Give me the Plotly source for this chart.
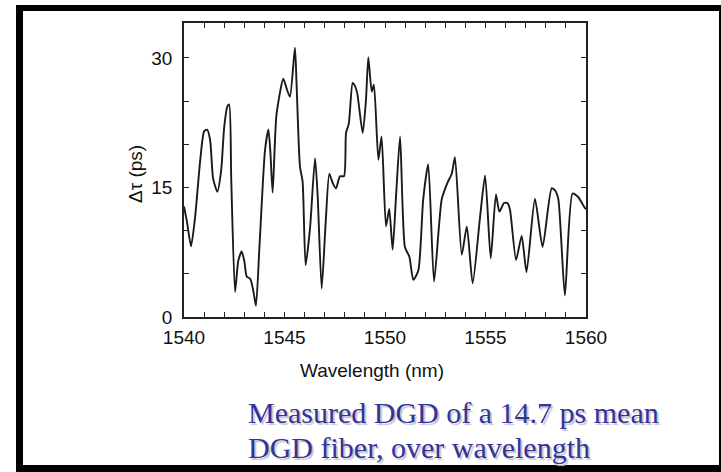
import plotly.graph_objects as go

# Data
wavelength_nm = [
    1540.00, 1540.15, 1540.35, 1540.55, 1540.80, 1541.00, 1541.15, 1541.30, 1541.45, 1541.66,
    1541.85, 1542.00, 1542.16, 1542.25, 1542.35, 1542.54, 1542.70, 1542.87, 1543.00, 1543.12,
    1543.30, 1543.45, 1543.58, 1543.75, 1544.03, 1544.20, 1544.30, 1544.41, 1544.60, 1544.94,
    1545.10, 1545.27, 1545.52, 1545.60, 1545.77, 1545.90, 1546.05, 1546.27, 1546.52, 1546.65,
    1546.85, 1547.05, 1547.23, 1547.40, 1547.56, 1547.76, 1547.96, 1548.06, 1548.20, 1548.39,
    1548.50, 1548.62, 1548.89, 1549.05, 1549.17, 1549.34, 1549.45, 1549.67, 1549.83, 1550.05,
    1550.21, 1550.38, 1550.55, 1550.75, 1550.99, 1551.21, 1551.41, 1551.66, 1551.90, 1552.15,
    1552.44, 1552.82, 1553.10, 1553.32, 1553.48, 1553.82, 1554.07, 1554.36, 1554.73, 1554.98,
    1555.26, 1555.52, 1555.69, 1555.92, 1556.09, 1556.22, 1556.52, 1556.80, 1557.04, 1557.46,
    1557.84, 1558.29, 1558.45, 1558.62, 1558.95, 1559.33, 1559.61, 1559.95, 1560.00,
]
dgd_ps = [
    12.8, 11.0, 8.2, 11.5, 18.0, 21.5, 21.7, 20.5, 16.0, 14.5,
    17.0, 22.0, 24.4, 24.6, 16.0, 2.9, 6.5, 7.6, 6.5, 4.7,
    4.4, 3.0, 1.3, 8.0, 19.3, 21.7, 19.0, 14.4, 23.4, 27.6,
    26.5, 25.5, 31.2, 27.0, 17.4, 15.7, 6.0, 10.3, 18.4, 14.0,
    3.3, 11.0, 16.6, 15.5, 14.9, 16.3, 16.3, 21.3, 22.4, 27.1,
    26.8, 25.9, 21.3, 25.0, 30.1, 26.1, 26.9, 18.2, 20.9, 10.5,
    12.5, 7.8, 14.0, 20.9, 8.1, 7.0, 4.3, 5.4, 13.6, 17.7,
    4.1, 13.6, 15.5, 16.6, 18.5, 7.2, 10.5, 3.9, 11.6, 16.4,
    6.8, 14.2, 12.2, 13.2, 13.2, 12.4, 6.6, 9.4, 5.2, 13.7,
    8.1, 14.9, 14.7, 13.7, 2.5, 14.3, 13.9, 12.6, 12.5,
]
x_tick_vals = [1540, 1545, 1550, 1555, 1560]
x_tick_text = ["1540", "1545", "1550", "1555", "1560"]
y_tick_vals = [0, 15, 30]
y_tick_text = ["0", "15", "30"]

x_title = "Wavelength (nm)"
y_title = "Δτ (ps)"
caption_lines = ["Measured DGD of a 14.7 ps mean", "DGD fiber, over wavelength"]

W, H = 721, 472
L, R, T, B = 184, 586, 23, 317  # plot area in pixels


def px_x(p):
    return (p - L) / (R - L)


def px_y(p):
    return (B - p) / (B - T)


fig = go.Figure()
fig.add_trace(go.Scatter(
    x=wavelength_nm, y=dgd_ps, mode="lines",
    line=dict(color="#1a1a1a", width=1.9, shape="spline", smoothing=0.6),
    hoverinfo="skip", showlegend=False,
))

axis_font = dict(family="Liberation Sans, Arial, sans-serif", size=19, color="#111111")

fig.update_xaxes(
    range=[1540, 1560], tickmode="array", tickvals=x_tick_vals, ticktext=x_tick_text,
    ticks="inside", ticklen=5, tickwidth=1.2, tickcolor="#222",
    minor=dict(dtick=1, ticks="inside", ticklen=5, tickwidth=1.2, tickcolor="#222"),
    showline=True, linecolor="#222", linewidth=1.6, mirror="ticks",
    showgrid=False, zeroline=False, tickfont=axis_font, ticklabelstandoff=2,
)
fig.update_yaxes(
    range=[0, 34.05], tickmode="array", tickvals=y_tick_vals, ticktext=y_tick_text,
    ticks="inside", ticklen=5, tickwidth=1.2, tickcolor="#222",
    minor=dict(dtick=5, ticks="inside", ticklen=5, tickwidth=1.2, tickcolor="#222"),
    showline=True, linecolor="#222", linewidth=1.6, mirror="ticks",
    showgrid=False, zeroline=False, tickfont=axis_font, ticklabelstandoff=6,
)

annotations = [
    dict(text=x_title, x=px_x(372), y=px_y(370), xref="paper", yref="paper",
         xanchor="center", yanchor="middle", showarrow=False, font=axis_font),
    dict(text=y_title, x=px_x(135), y=px_y(174), xref="paper", yref="paper",
         xanchor="center", yanchor="middle", showarrow=False, font=axis_font, textangle=-90),
]
cap_font = dict(family="Liberation Serif, Times New Roman, serif", size=30, color="#33339a")
for line, cy in zip(caption_lines, [412, 447]):
    annotations.append(dict(text=line, x=px_x(246), y=px_y(cy), xref="paper", yref="paper",
                            xanchor="left", yanchor="middle", showarrow=False, font=cap_font))

# black slide frame
frame = [
    (16, 5, 725, 11),    # top
    (16, 5, 23, 476),    # left
    (719, 5, 725, 476),  # right
    (16, 465, 725, 476), # bottom
]
shapes = [dict(type="rect", xref="paper", yref="paper",
               x0=px_x(a), x1=px_x(c), y0=px_y(d), y1=px_y(b),
               fillcolor="black", line=dict(width=0), layer="above")
          for a, b, c, d in frame]

fig.update_layout(
    width=W, height=H,
    margin=dict(l=L, r=W - R, t=T, b=H - B),
    paper_bgcolor="white", plot_bgcolor="white",
    annotations=annotations, shapes=shapes,
)

post = (
    "document.body.style.margin='0';"
    "document.querySelectorAll('.annotation-text').forEach(function(t){"
    "if(t.textContent.indexOf('DGD')>=0){t.style.textShadow='2px 2px 1px #c4c4cc';}});"
)
fig.write_html("out.html", post_script=post, config={"displayModeBar": False})
